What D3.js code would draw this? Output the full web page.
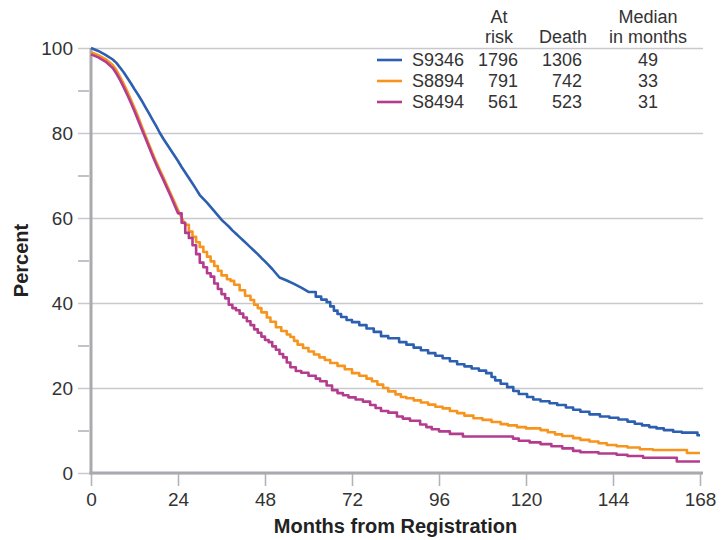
<!DOCTYPE html>
<html lang="en">
<head>
    <meta charset="UTF-8">
    <title>Survival by study</title>
    <script src="https://d3js.org/d3.v7.min.js"></script>
    <style>
        body { margin: 0; background: #fff; font-family: "Liberation Sans", Arial, Helvetica, sans-serif; }
        svg { display: block; }
        .tick text { fill: #333; }
    </style>
</head>
<body>
    <svg width="724" height="540"></svg>
    <script>
        // Series, legend table and ticks
        const seriesNames = ["S9346", "S8894", "S8494"];
        const atRisk = [1796, 791, 561];
        const deaths = [1306, 742, 523];
        const medians = [49, 33, 31];
        const colors = ["#2d5fb1", "#f7941d", "#b43c8e"];
        // month up to which the curve's steps are too fine to see
        const smoothUntil = [60, 26, 24];

        const xTicks = [0, 24, 48, 72, 96, 120, 144, 168];
        const yMajor = [0, 20, 40, 60, 80, 100];
        const yMinor = [10, 30, 50, 70, 90];

        // [month, percent] at each step
        const s9346 = [
            [0,100],[2,99.3],[4,98.4],[6,97.3],[7,96.5],[8,95.4],[9,94.3],[10,93],[11,91.7],[12,90.3],
            [13,89],[14,87.6],[15,86.1],[16,84.6],[17,83.1],[18,81.6],[19,80],[20,78.6],[21,77.3],[22,76],
            [23,74.7],[24,73.4],[25,72],[26,70.7],[27,69.4],[28,68.1],[29,66.8],[30,65.4],[31,64.5],[32,63.6],
            [33,62.6],[34,61.6],[35,60.6],[36,59.6],[37,58.8],[38,58],[39,57.1],[40,56.3],[41,55.5],[42,54.7],
            [43,53.9],[44,53.1],[45,52.3],[46,51.5],[47,50.6],[48,49.8],[49,48.9],[50,48],[51,47],[52,46],
            [54,45.3],[56,44.5],[58,43.6],[60,42.6],[62,41.5],[63.5,40.8],[65,40.2],[66,39.2],[67,38.2],[68,37.4],
            [69,36.7],[70.5,36],[72,35.5],[74,34.8],[76,34],[78,33.2],[80,32.2],[82,31.7],[85,30.8],[87,30.2],
            [89,29.5],[91,28.9],[93,28.2],[95,27.6],[97,27],[99,26.3],[101,25.6],[103,25.1],[105,24.6],[107,24.1],
            [109,23.5],[110.5,22.6],[111.5,21.8],[113,21],[114.8,20.2],[116.5,19.3],[118,18.6],[120.3,17.9],[122,17.3],[124,16.9],
            [126.5,16.4],[128.6,16],[131,15.4],[133,14.9],[135,14.4],[137.5,13.8],[140.4,13.3],[143,13],[145.5,12.6],[148,12.1],
            [150,11.6],[152,11.2],[154,10.8],[156,10.5],[158,10.1],[160.6,9.7],[163,9.5],[167.3,8.9],[168,8.9]
        ];
        const s8894 = [
            [0,99],[2,98.3],[4,97.4],[6,96],[7,94.8],[8,93.2],[9,91.6],[10,89.8],[11,87.9],[12,85.9],
            [13,83.8],[14,81.6],[15,79.4],[16,77.3],[17,75.2],[18,73.2],[19,71.3],[20,69.5],[21,67.6],[22,65.7],
            [23,63.8],[24,61.9],[25,60.1],[26,58.4],[27,56.8],[28,55.6],[29,54.3],[30,53.2],[31,52],[32,50.9],
            [33,49.8],[34,48.7],[35,47.6],[36,46.5],[37.5,45.6],[38.5,45.2],[39.5,44.3],[41,43],[42.5,41.7],[44,40.7],
            [45,39.6],[46,38.8],[47,37.8],[48.5,36.6],[49.5,35.6],[51,34.3],[52.5,33.4],[54,32.6],[55,32],[56,31.1],
            [57,30.2],[58.5,29.4],[60,28.6],[61.5,27.9],[63,27.2],[64.5,26.6],[66,25.9],[68,25.2],[70,24.4],[72,23.5],
            [74,22.9],[76,22.2],[77.5,21.6],[79,20.8],[80.6,20],[82,19.2],[84,18.5],[85.5,17.9],[87,17.6],[89,17.1],
            [91,16.6],[93,16.1],[95,15.6],[97,15.2],[99,14.6],[101,14.1],[103,13.5],[105.5,12.9],[108,12.5],[110.5,12],
            [113,11.5],[115,11.2],[117.5,10.8],[120,10.5],[124,10.1],[126,9.6],[128,9.1],[130,8.7],[133,8.2],[135,7.8],
            [137.5,7.4],[140,7],[142.3,6.6],[145,6.3],[148,6],[151.4,5.6],[155,5.4],[164.4,4.7],[168,4.7]
        ];
        const s8494 = [
            [0,98.5],[2,97.8],[4,96.8],[6,95.3],[7,94],[8,92.5],[9,90.8],[10,89],[11,87.1],[12,85.1],
            [13,83],[14,80.9],[15,78.8],[16,76.7],[17,74.6],[18,72.6],[19,70.7],[20,68.9],[21,67],[22,65.1],
            [23,63.1],[24,61.1],[25,58.9],[26,56.5],[27,55.3],[28,53.6],[29,51.5],[30,49.5],[31,48.4],[32,47],
            [33,46.2],[34,44.6],[35,43.3],[36,42.1],[37,41.1],[38,39.6],[39,38.8],[40,38.3],[41,37.5],[42,36.6],
            [43,35.7],[44,34.8],[45,33.8],[46,33],[47,32.1],[48,31.3],[49,30.8],[50,29.8],[51,29],[52,28],
            [53,27.2],[54,26],[55,24.9],[56.5,24],[58,23.6],[60,22.9],[62,22.2],[63.2,21.6],[65,20.6],[66.5,19.5],
            [68,18.8],[69.5,18.3],[71,17.8],[73,17.3],[75,16.8],[77,16],[78.5,15.3],[80,14.6],[82,14.2],[84.4,13.3],
            [86,12.8],[88,12.3],[90.8,11.4],[92.5,10.8],[94,10.3],[96,9.8],[99,9.2],[102.6,8.6],[116.4,8.1],[118,7.6],
            [121,7.2],[124,6.8],[127,6.3],[130,5.8],[133,5.2],[135,4.9],[140,4.6],[145,4.3],[148,4],[152.3,3.6],
            [161.6,2.7],[168,2.7]
        ];
        const curves = [s9346, s8894, s8494];

        const svg = d3.select("svg");
        const font = '"Liberation Sans", Arial, Helvetica, sans-serif';

        const x = d3.scaleLinear().domain([0, 168]).range([91, 700]);
        const y = d3.scaleLinear().domain([0, 100]).range([473, 48]);
        const gridLeft = 78, gridRight = 703;

        // major gridlines + labels
        const yAxis = svg.append("g")
            .attr("transform", `translate(${gridLeft},0)`)
            .call(d3.axisLeft(y).tickValues(yMajor).tickSize(-(gridRight - gridLeft)).tickPadding(5));
        yAxis.select(".domain").remove();
        yAxis.selectAll(".tick line").attr("stroke", "#c9c9cc").attr("stroke-width", 1.6);
        yAxis.selectAll(".tick text").attr("font-size", 19).attr("font-family", font);

        // minor ticks
        const yMinorAxis = svg.append("g")
            .attr("transform", `translate(${x(0) - 2},0)`)
            .call(d3.axisLeft(y).tickValues(yMinor).tickSize(11).tickFormat(""));
        yMinorAxis.select(".domain").remove();
        yMinorAxis.selectAll(".tick line").attr("stroke", "#b4b4b8").attr("stroke-width", 1.6);

        // x axis
        const xAxis = svg.append("g")
            .attr("transform", `translate(0,${y(0)})`)
            .call(d3.axisBottom(x).tickValues(xTicks).tickSize(13).tickPadding(7));
        xAxis.select(".domain").remove();
        xAxis.selectAll(".tick line").attr("stroke", "#b4b4b8").attr("stroke-width", 1.6);
        xAxis.selectAll(".tick text").attr("font-size", 19).attr("font-family", font);

        // axis lines
        svg.append("line")
            .attr("x1", x(0)).attr("x2", x(0)).attr("y1", y(100)).attr("y2", y(0) + 1.5)
            .attr("stroke", "#aaaaae").attr("stroke-width", 3);
        svg.append("line")
            .attr("x1", x(0) - 1.5).attr("x2", gridRight).attr("y1", y(0)).attr("y2", y(0))
            .attr("stroke", "#aaaaae").attr("stroke-width", 3);

        // curves: fine early part as a line, later part as visible steps
        const smoothLine = d3.line().x(d => x(d[0])).y(d => y(d[1])).curve(d3.curveLinear);
        const stepLine = d3.line().x(d => x(d[0])).y(d => y(d[1])).curve(d3.curveStepAfter);

        curves.forEach((c, i) => {
            const early = c.filter(d => d[0] <= smoothUntil[i]);
            const late = c.filter(d => d[0] >= smoothUntil[i]);
            const d = smoothLine(early) + stepLine(late).replace(/^M/, "L");
            svg.append("path")
                .attr("fill", "none")
                .attr("stroke", colors[i])
                .attr("stroke-width", 2.6)
                .attr("stroke-linejoin", "round")
                .attr("d", d);
        });

        // axis titles
        svg.append("text")
            .attr("x", (x(0) + x(168)) / 2).attr("y", 533)
            .attr("text-anchor", "middle")
            .attr("font-family", font).attr("font-size", 20).attr("font-weight", "bold")
            .attr("fill", "#222")
            .text("Months from Registration");
        svg.append("text")
            .attr("transform", `translate(28,${(y(0) + y(100)) / 2}) rotate(-90)`)
            .attr("text-anchor", "middle")
            .attr("font-family", font).attr("font-size", 20).attr("font-weight", "bold")
            .attr("fill", "#222")
            .text("Percent");

        // legend table
        const legend = svg.append("g").attr("font-family", font).attr("font-size", 18).attr("fill", "#333");
        const headers = [
            { lines: ["At", "risk"], x: 499 },
            { lines: ["", "Death"], x: 563 },
            { lines: ["Median", "in months"], x: 648 }
        ];
        headers.forEach(h => {
            h.lines.forEach((t, j) => {
                legend.append("text")
                    .attr("x", h.x).attr("y", 23 + j * 20)
                    .attr("text-anchor", "middle")
                    .text(t);
            });
        });

        const rowY = d => 66 + d * 21;
        seriesNames.forEach((name, i) => {
            legend.append("line")
                .attr("x1", 377).attr("x2", 402)
                .attr("y1", rowY(i) - 6).attr("y2", rowY(i) - 6)
                .attr("stroke", colors[i]).attr("stroke-width", 2.6);
            legend.append("text").attr("x", 412).attr("y", rowY(i)).text(name);
            legend.append("text").attr("x", 518).attr("y", rowY(i)).attr("text-anchor", "end").text(atRisk[i]);
            legend.append("text").attr("x", 582).attr("y", rowY(i)).attr("text-anchor", "end").text(deaths[i]);
            legend.append("text").attr("x", 648).attr("y", rowY(i)).attr("text-anchor", "middle").text(medians[i]);
        });
    </script>
</body>
</html>
